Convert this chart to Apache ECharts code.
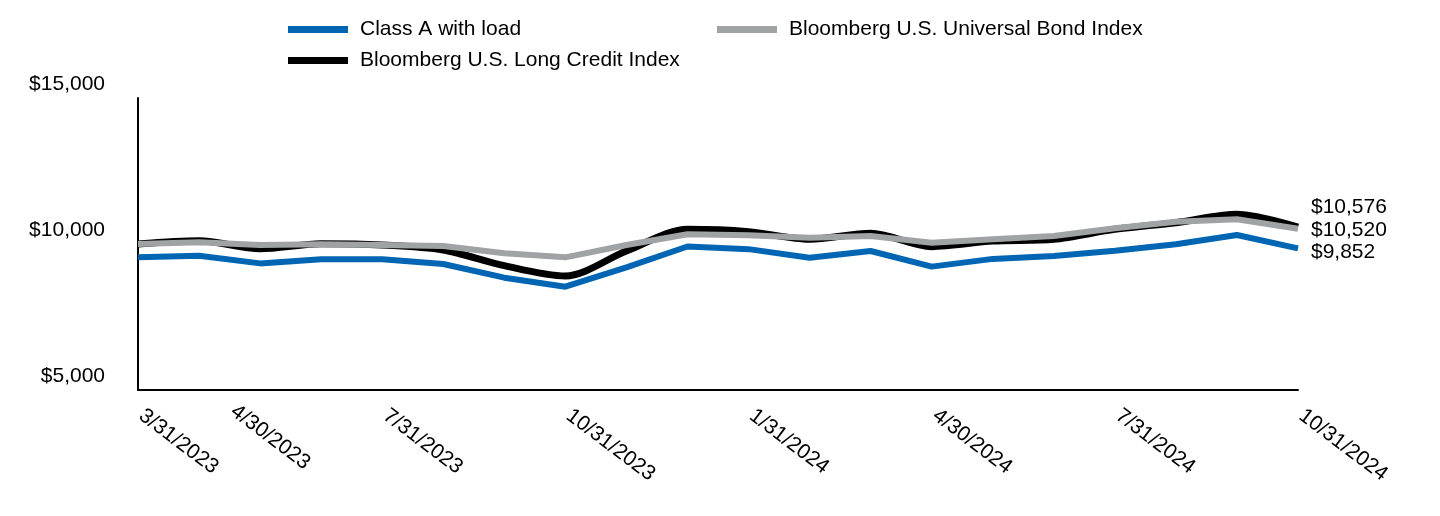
<!DOCTYPE html>
<html>
<head>
<meta charset="utf-8">
<script src="https://cdn.jsdelivr.net/npm/echarts@6/dist/echarts.min.js"></script>
<style>
html,body{margin:0;padding:0;background:#fff;}
#chart{width:1440px;height:516px;}
</style>
</head>
<body>
<div id="chart"></div>
<script>
const categories = ['3/31/2023','4/30/2023','5/31/2023','6/30/2023','7/31/2023','8/31/2023','9/30/2023','10/31/2023','11/30/2023','12/31/2023','1/31/2024','2/29/2024','3/31/2024','4/30/2024','5/31/2024','6/30/2024','7/31/2024','8/31/2024','9/30/2024','10/31/2024'];
const tickLabels = ['3/31/2023','4/30/2023','7/31/2023','10/31/2023','1/31/2024','4/30/2024','7/31/2024','10/31/2024'];
const classA = [9550, 9600, 9336, 9476, 9476, 9315, 8846, 8538, 9200, 9914, 9824, 9531, 9761, 9225, 9490, 9589, 9771, 9990, 10309, 9852];
const longCredit = [10000, 10113, 9840, 10010, 9966, 9795, 9258, 8905, 9760, 10503, 10423, 10161, 10366, 9909, 10100, 10161, 10503, 10731, 11016, 10576];
const universal = [10000, 10058, 9966, 9989, 9966, 9932, 9681, 9543, 9966, 10332, 10298, 10218, 10275, 10046, 10160, 10275, 10537, 10765, 10845, 10520];
const yTicks = [5000, 10000, 15000];

const FONT = '"Liberation Sans", Arial, sans-serif';
const FS = 21;
const money = v => '$' + Number(v).toLocaleString('en-US');

const chart = echarts.init(document.getElementById('chart'), null, {renderer: 'canvas'});
chart.setOption({
  animation: false,
  backgroundColor: '#fff',
  textStyle: {fontFamily: FONT},
  legend: [{
    data: ['Class A with load', 'Bloomberg U.S. Long Credit Index'],
    orient: 'vertical',
    left: 283, top: 14,
    itemWidth: 60, itemHeight: 7, itemGap: 10,
    icon: 'rect',
    textStyle: {fontSize: FS, color: '#000', fontFamily: FONT, padding: [0,0,0,7]}
  }, {
    data: ['Bloomberg U.S. Universal Bond Index'],
    orient: 'vertical',
    left: 712, top: 14,
    itemWidth: 60, itemHeight: 7,
    icon: 'rect',
    textStyle: {fontSize: FS, color: '#000', fontFamily: FONT, padding: [0,0,0,7]}
  }],
  grid: {left: 138, right: 142, top: 98, bottom: 126, containLabel: false},
  xAxis: {
    type: 'category',
    data: categories,
    boundaryGap: false,
    axisLine: {show: true, lineStyle: {color: '#000', width: 2}},
    axisTick: {show: false},
    splitLine: {show: false},
    axisLabel: {
      interval: (idx, val) => tickLabels.indexOf(val) >= 0,
      rotate: -37,
      margin: 21,
      fontSize: FS,
      color: '#000',
      fontFamily: FONT,
      formatter: (val, idx) => idx === 1 ? '{sp|}{t|' + val + '}\n{gap| }' : '{n|}' + val,
      rich: {
        sp: {width: 26},
        n: {width: 4},
        t: {fontSize: FS, color: '#000', fontFamily: FONT},
        gap: {lineHeight: 44, fontSize: 10}
      }
    }
  },
  yAxis: {
    type: 'value',
    min: yTicks[0], max: yTicks[yTicks.length - 1], interval: 5000,
    axisLine: {show: true, lineStyle: {color: '#000', width: 2}},
    axisTick: {show: false},
    splitLine: {show: false},
    axisLabel: {
      fontSize: FS, color: '#000', fontFamily: FONT, margin: 33,
      verticalAlign: 'bottom', padding: [0,0,3,0],
      formatter: money
    }
  },
  series: [{
    name: 'Class A with load',
    type: 'line',
    data: classA,
    showSymbol: false,
    lineStyle: {color: '#0066b3', width: 6},
    itemStyle: {color: '#0066b3'},
    endLabel: {show: true, formatter: p => money(p.value), fontSize: FS, color: '#000', fontFamily: FONT, distance: 13, offset: [0, 4]}
  }, {
    name: 'Bloomberg U.S. Long Credit Index',
    type: 'line',
    data: longCredit,
    smooth: 0.3,
    showSymbol: false,
    lineStyle: {color: '#000', width: 7},
    itemStyle: {color: '#000'},
    endLabel: {show: true, formatter: p => money(p.value), fontSize: FS, color: '#000', fontFamily: FONT, distance: 13, offset: [0, -20]}
  }, {
    name: 'Bloomberg U.S. Universal Bond Index',
    type: 'line',
    data: universal,
    showSymbol: false,
    lineStyle: {color: '#9fa3a3', width: 6},
    itemStyle: {color: '#9fa3a3'},
    endLabel: {show: true, formatter: p => money(p.value), fontSize: FS, color: '#000', fontFamily: FONT, distance: 13, offset: [0, 1]}
  }]
});
</script>
</body>
</html>
